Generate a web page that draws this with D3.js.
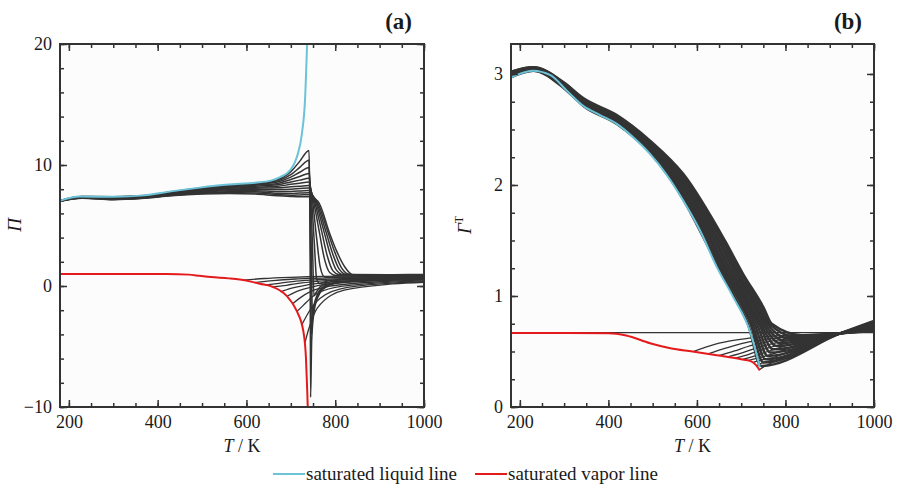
<!DOCTYPE html>
<html>
<head>
<meta charset="utf-8">
<script src="https://cdn.jsdelivr.net/npm/d3@7"></script>
<style>
  body { margin: 0; background: #fff; }
  text { font-family: "Liberation Serif", "Times New Roman", serif; fill: #1a1a1a; }
</style>
</head>
<body>
<svg id="chart" width="899" height="486"></svg>
<script>
// ---------- shared ----------
const xMajor = [200, 400, 600, 800, 1000]
const xMinor = [200, 250, 300, 350, 400, 450, 500, 550, 600, 650, 700, 750, 800, 850, 900, 950, 1000]

// ---------- panel (a): Pi vs T ----------
const yMajorA = [-10, 0, 10, 20]
const yMinorA = [-10, -8, -6, -4, -2, 0, 2, 4, 6, 8, 10, 12, 14, 16, 18, 20]

const liqTA = [180, 225, 300, 370, 430, 495, 560, 620, 655, 676, 698, 714, 725, 732, 737.5]
const liqPiA = [7.05, 7.4, 7.37, 7.49, 7.82, 8.13, 8.38, 8.54, 8.71, 9.0, 9.56, 10.7, 12.6, 15.4, 21]
const vapTA = [180, 420, 470, 495, 520, 560, 585, 610, 630, 660, 690, 713, 728, 734, 737, 738.5]
const vapPiA = [1.0, 0.99, 0.94, 0.84, 0.74, 0.63, 0.53, 0.36, 0.19, -0.08, -0.80, -2.04, -3.7, -5.9, -8.7, -10.5]

// supercritical isobars, liquid-like part on a common T grid
const supTA = [180, 230, 300, 370, 430, 500, 560, 620, 670, 700, 720, 741]
const supPiA = [
  [7.05, 7.4, 7.38, 7.47, 7.8, 8.12, 8.35, 8.5, 8.8, 9.45, 10.3, 11.2],
  [7.05, 7.39, 7.36, 7.45, 7.77, 8.08, 8.3, 8.45, 8.7, 9.2, 9.8, 10.4],
  [7.04, 7.38, 7.34, 7.43, 7.74, 8.04, 8.25, 8.4, 8.6, 9.0, 9.4, 9.8],
  [7.04, 7.37, 7.32, 7.41, 7.71, 8.0, 8.2, 8.33, 8.48, 8.8, 9.05, 9.3],
  [7.03, 7.36, 7.3, 7.39, 7.68, 7.96, 8.14, 8.25, 8.36, 8.6, 8.75, 8.9],
  [7.03, 7.35, 7.28, 7.37, 7.65, 7.92, 8.08, 8.17, 8.24, 8.4, 8.5, 8.6],
  [7.02, 7.33, 7.26, 7.35, 7.62, 7.87, 8.02, 8.08, 8.12, 8.2, 8.25, 8.3],
  [7.02, 7.32, 7.23, 7.33, 7.58, 7.82, 7.95, 7.98, 7.98, 8.0, 8.05, 8.1],
  [7.01, 7.3, 7.2, 7.31, 7.55, 7.76, 7.87, 7.88, 7.82, 7.82, 7.85, 7.9],
  [7.01, 7.28, 7.18, 7.29, 7.52, 7.7, 7.79, 7.78, 7.66, 7.65, 7.68, 7.7],
  [7.0, 7.27, 7.15, 7.27, 7.48, 7.65, 7.72, 7.69, 7.55, 7.5, 7.52, 7.55],
  [7.0, 7.25, 7.13, 7.25, 7.45, 7.6, 7.65, 7.6, 7.45, 7.4, 7.38, 7.38]
]
// their drop beyond the pseudo-critical temperature, [T, Pi]
const supTailA = [
  [[742.5, 7.5], [743.5, 2], [744.5, -9.2], [747, -4.5], [752, -2.2], [760, -1.0], [775, -0.2], [800, 0.2], [860, 0.42], [930, 0.52], [1000, 0.58]],
  [[743, 7], [745, 1.5], [746.5, -4], [749, -2.6], [755, -1.4], [765, -0.5], [785, 0.1], [820, 0.35], [900, 0.52], [1000, 0.6]],
  [[744, 7], [746.5, 2], [748.5, -2.4], [752, -1.6], [760, -0.7], [775, 0.0], [800, 0.3], [860, 0.5], [1000, 0.65]],
  [[745.5, 7], [749, 3], [752, -0.8], [756, -0.6], [765, -0.1], [785, 0.3], [830, 0.55], [1000, 0.7]],
  [[747, 7], [753, 3.5], [758, 0.6], [765, 0.2], [785, 0.45], [850, 0.65], [1000, 0.76]],
  [[749, 7], [758, 4], [766, 1.6], [776, 0.75], [795, 0.7], [870, 0.76], [1000, 0.82]],
  [[751, 7], [764, 4.5], [776, 2.2], [788, 1.1], [803, 0.85], [880, 0.82], [1000, 0.86]],
  [[753, 7], [769, 4.6], [782, 2.5], [795, 1.25], [810, 0.92], [890, 0.87], [1000, 0.89]],
  [[755, 7], [774, 4.6], [788, 2.7], [802, 1.35], [818, 0.95], [900, 0.89], [1000, 0.91]],
  [[757, 7], [779, 4.5], [794, 2.7], [809, 1.4], [826, 0.96], [910, 0.91], [1000, 0.93]],
  [[759, 7], [784, 4.4], [799, 2.8], [815, 1.45], [833, 0.95], [920, 0.93], [1000, 0.94]],
  [[761, 7], [788, 4.3], [803, 2.9], [822, 1.55], [841, 0.9], [930, 0.93], [1000, 0.95]]
]
// subcritical isobars, vapour branch starting on the saturated vapour line
const vapIsoA = [
  [[592, 0.48], [640, 0.62], [700, 0.72], [745, 0.77], [850, 0.82], [1000, 0.86]],
  [[619, 0.28], [660, 0.45], [710, 0.58], [750, 0.64], [850, 0.74], [1000, 0.8]],
  [[642, 0.08], [680, 0.26], [720, 0.42], [760, 0.52], [860, 0.66], [1000, 0.74]],
  [[660, -0.08], [690, 0.06], [725, 0.25], [765, 0.4], [870, 0.58], [1000, 0.68]],
  [[677, -0.49], [700, -0.2], [735, 0.08], [775, 0.28], [880, 0.5], [1000, 0.62]],
  [[691, -0.85], [710, -0.5], [740, -0.15], [780, 0.15], [890, 0.42], [1000, 0.55]],
  [[703, -1.5], [720, -1.0], [745, -0.45], [790, 0.0], [900, 0.35], [1000, 0.48]],
  [[714, -2.1], [728, -1.6], [750, -0.85], [800, -0.12], [910, 0.28], [1000, 0.42]],
  [[724, -3.26], [735, -2.5], [755, -1.4], [810, -0.25], [920, 0.22], [1000, 0.36]],
  [[731, -4.8], [740, -3.6], [760, -1.8], [820, -0.35], [930, 0.17], [1000, 0.31]]
]

// ---------- panel (b): Gamma^T vs T ----------
const yMajorB = [0, 1, 2, 3]
const yMinorB = [0, 0.25, 0.5, 0.75, 1, 1.25, 1.5, 1.75, 2, 2.25, 2.5, 2.75, 3]

const liqTB = [180, 229, 269, 306, 344, 381, 419, 456, 494, 532, 569, 607, 645, 682, 720, 742]
const liqGB = [2.97, 3.03, 2.99, 2.85, 2.71, 2.63, 2.55, 2.43, 2.28, 2.09, 1.86, 1.59, 1.26, 0.99, 0.68, 0.36]
const vapTB = [180, 400, 440, 494, 540, 590, 645, 700, 720, 733, 742]
const vapGB = [0.667, 0.665, 0.645, 0.575, 0.53, 0.50, 0.466, 0.43, 0.415, 0.38, 0.33]
const gasTB = [180, 1000]
const gasGB = [0.67, 0.67]

const supTB = [180, 230, 300, 344, 419, 494, 569]
const supGB = [
  [2.97, 3.03, 2.87, 2.71, 2.55, 2.29, 1.87],
  [2.98, 3.03, 2.88, 2.72, 2.56, 2.30, 1.89],
  [2.98, 3.04, 2.88, 2.73, 2.57, 2.31, 1.91],
  [2.99, 3.04, 2.89, 2.73, 2.57, 2.32, 1.93],
  [2.99, 3.04, 2.89, 2.74, 2.58, 2.33, 1.95],
  [2.99, 3.04, 2.89, 2.74, 2.59, 2.34, 1.98],
  [3.00, 3.05, 2.90, 2.75, 2.59, 2.35, 2.00],
  [3.00, 3.05, 2.90, 2.76, 2.60, 2.36, 2.02],
  [3.01, 3.05, 2.91, 2.76, 2.61, 2.37, 2.04],
  [3.01, 3.05, 2.91, 2.77, 2.62, 2.38, 2.06],
  [3.02, 3.06, 2.92, 2.77, 2.62, 2.39, 2.08],
  [3.02, 3.06, 2.92, 2.78, 2.63, 2.40, 2.10]
]
// temperatures where each isobar crosses these Gamma levels
const crossLevelsB = [1.5, 1.2, 0.9, 0.75]
const crossTB = [
  [618, 657, 697, 715],
  [623, 662, 703, 721],
  [626, 666, 707, 725],
  [631, 670, 712, 730],
  [634, 674, 717, 735],
  [639, 679, 721, 740],
  [642, 682, 726, 744],
  [647, 687, 731, 749],
  [650, 691, 735, 754],
  [655, 695, 740, 759],
  [659, 700, 745, 764],
  [663, 704, 750, 769]
]
const minPointB = [[745, 0.37], [750, 0.40], [755, 0.43], [760, 0.46], [766, 0.49], [772, 0.52],
  [780, 0.55], [788, 0.575], [796, 0.60], [806, 0.62], [820, 0.635], [840, 0.645]]
const pinchB = [925, 0.665]
const endGB = [0.775, 0.765, 0.755, 0.745, 0.735, 0.725, 0.715, 0.705, 0.70, 0.695, 0.69, 0.685]

const vapIsoB = [
  [[592, 0.50], [640, 0.565], [690, 0.605], [730, 0.625], [800, 0.645], [925, 0.665], [1000, 0.69]],
  [[625, 0.478], [665, 0.53], [705, 0.575], [740, 0.6], [810, 0.635], [925, 0.665], [1000, 0.7]],
  [[650, 0.463], [685, 0.505], [715, 0.545], [745, 0.575], [820, 0.625], [925, 0.665], [1000, 0.71]],
  [[670, 0.452], [700, 0.485], [725, 0.52], [750, 0.55], [830, 0.615], [925, 0.665], [1000, 0.72]],
  [[688, 0.44], [712, 0.467], [735, 0.5], [755, 0.525], [835, 0.605], [925, 0.665], [1000, 0.73]],
  [[703, 0.428], [722, 0.45], [742, 0.475], [760, 0.5], [840, 0.595], [925, 0.665], [1000, 0.74]],
  [[715, 0.418], [730, 0.433], [748, 0.452], [768, 0.475], [845, 0.585], [925, 0.665], [1000, 0.75]],
  [[726, 0.40], [737, 0.415], [753, 0.43], [775, 0.45], [850, 0.575], [925, 0.665], [1000, 0.76]],
  [[735, 0.372], [744, 0.39], [758, 0.41], [782, 0.43], [855, 0.56], [925, 0.665], [1000, 0.77]],
  [[741, 0.335], [748, 0.355], [765, 0.39], [800, 0.45], [860, 0.56], [925, 0.665], [1000, 0.775]]
]

const liqColor = "#6cc3d8"
const vapColor = "#e41a1c"
const isoColor = "#333333"

// ---------- build line data ----------
const zip = (a, b) => a.map((v, i) => [v, b[i]])

const superA = supPiA.map((row, i) => zip(supTA, row).concat(supTailA[i]))

const superB = supGB.map((row, i) => zip(supTB, row)
  .concat(crossTB[i].map((t, j) => [t, crossLevelsB[j]]))
  .concat([minPointB[i], pinchB, [1000, endGB[i]]]))

const svg = d3.select("#chart")
const defs = svg.append("defs")

function drawPanel(p) {
  const x = d3.scaleLinear().domain([180, 1000]).range([p.left, p.right])
  const y = d3.scaleLinear().domain(p.yDomain).range([p.bottom, p.top])

  const g = svg.append("g").attr("class", "panel-" + p.id)

  g.append("rect")
    .attr("x", p.left).attr("y", p.top)
    .attr("width", p.right - p.left).attr("height", p.bottom - p.top)
    .attr("fill", "#fcfcfc")

  defs.append("clipPath").attr("id", p.id + "-clip")
    .append("rect")
    .attr("x", p.left).attr("y", p.top)
    .attr("width", p.right - p.left).attr("height", p.bottom - p.top)

  const plot = g.append("g").attr("clip-path", "url(#" + p.id + "-clip)")

  const line = d3.line()
    .x(d => x(d[0]))
    .y(d => y(d[1]))
    .curve(d3.curveMonotoneX)

  p.groups.forEach((grp, k) => {
    plot.selectAll("path.iso" + k).data(grp.lines)
      .join("path")
      .attr("class", "iso" + k)
      .attr("d", line)
      .attr("fill", "none")
      .attr("stroke", isoColor)
      .attr("stroke-width", grp.width)
  })

  plot.append("path").datum(p.liquid)
    .attr("d", line).attr("fill", "none")
    .attr("stroke", liqColor).attr("stroke-width", 2)

  plot.append("path").datum(p.vapor)
    .attr("d", line).attr("fill", "none")
    .attr("stroke", vapColor).attr("stroke-width", 2)

  // ticks, pointing inward on all four sides
  function styleAxis(sel) {
    sel.select(".domain").remove()
    sel.selectAll(".tick line").attr("stroke", "#333").attr("stroke-width", 1.5)
    sel.attr("font-family", "'Liberation Serif', 'Times New Roman', serif").attr("font-size", 18)
    sel.selectAll(".tick text").attr("fill", "#1a1a1a")
  }
  const none = () => ""

  g.append("g").attr("transform", "translate(0," + p.bottom + ")")
    .call(d3.axisBottom(x).tickValues(xMinor).tickSize(-4).tickFormat(none)).call(styleAxis)
  g.append("g").attr("transform", "translate(0," + p.bottom + ")")
    .call(d3.axisBottom(x).tickValues(xMajor).tickSize(-7).tickPadding(8).tickFormat(d3.format("d"))).call(styleAxis)
  g.append("g").attr("transform", "translate(0," + p.top + ")")
    .call(d3.axisTop(x).tickValues(xMinor).tickSize(-4).tickFormat(none)).call(styleAxis)
  g.append("g").attr("transform", "translate(0," + p.top + ")")
    .call(d3.axisTop(x).tickValues(xMajor).tickSize(-7).tickFormat(none)).call(styleAxis)

  g.append("g").attr("transform", "translate(" + p.left + ",0)")
    .call(d3.axisLeft(y).tickValues(p.yMinor).tickSize(-4).tickFormat(none)).call(styleAxis)
  g.append("g").attr("transform", "translate(" + p.left + ",0)")
    .call(d3.axisLeft(y).tickValues(p.yMajor).tickSize(-7).tickPadding(8).tickFormat(d3.format("d"))).call(styleAxis)
  g.append("g").attr("transform", "translate(" + p.right + ",0)")
    .call(d3.axisRight(y).tickValues(p.yMinor).tickSize(-4).tickFormat(none)).call(styleAxis)
  g.append("g").attr("transform", "translate(" + p.right + ",0)")
    .call(d3.axisRight(y).tickValues(p.yMajor).tickSize(-7).tickFormat(none)).call(styleAxis)

  // frame
  g.append("rect")
    .attr("x", p.left).attr("y", p.top)
    .attr("width", p.right - p.left).attr("height", p.bottom - p.top)
    .attr("fill", "none").attr("stroke", "#333").attr("stroke-width", 2)

  // x title
  const xt = g.append("text")
    .attr("x", (p.left + p.right) / 2).attr("y", 452)
    .attr("text-anchor", "middle").attr("font-size", 18)
  xt.append("tspan").attr("font-style", "italic").text("T")
  xt.append("tspan").text(" / K")

  // panel letter
  g.append("text")
    .attr("x", p.right - 12).attr("y", 29)
    .attr("text-anchor", "end").attr("font-size", 23).attr("font-weight", "bold")
    .text(p.letter)

  return g
}

const gA = drawPanel({
  id: "a", letter: "(a)", left: 60, right: 424, top: 44, bottom: 407,
  yDomain: [-10, 20], yMajor: yMajorA, yMinor: yMinorA,
  groups: [{ lines: vapIsoA, width: 1.3 }, { lines: superA, width: 1.5 }],
  liquid: zip(liqTA, liqPiA), vapor: zip(vapTA, vapPiA)
})
gA.append("text")
  .attr("transform", "translate(21,225) rotate(-90)")
  .attr("text-anchor", "middle").attr("font-size", 19).attr("font-style", "italic")
  .text("Π")

const gB = drawPanel({
  id: "b", letter: "(b)", left: 511, right: 874, top: 44, bottom: 407,
  yDomain: [0, 3.27], yMajor: yMajorB, yMinor: yMinorB,
  groups: [{ lines: [zip(gasTB, gasGB)], width: 1.3 }, { lines: vapIsoB, width: 1.3 }, { lines: superB, width: 2.5 }],
  liquid: zip(liqTB, liqGB), vapor: zip(vapTB, vapGB)
})
const gl = gB.append("text")
  .attr("transform", "translate(471,225) rotate(-90)")
  .attr("text-anchor", "middle").attr("font-size", 19)
gl.append("tspan").attr("font-style", "italic").text("Γ")
gl.append("tspan").attr("font-size", 12).attr("dy", -8).text("T")

// ---------- legend ----------
const legendItems = ["saturated liquid line", "saturated vapor line"]
const legendColors = [liqColor, vapColor]
const legendX = [273, 475]
const legend = svg.append("g").attr("class", "legend")
legend.selectAll("line").data(legendItems).join("line")
  .attr("x1", (d, i) => legendX[i]).attr("x2", (d, i) => legendX[i] + 32)
  .attr("y1", 474).attr("y2", 474)
  .attr("stroke", (d, i) => legendColors[i]).attr("stroke-width", 2)
legend.selectAll("text").data(legendItems).join("text")
  .attr("x", (d, i) => legendX[i] + 33).attr("y", 480)
  .attr("font-size", 19)
  .text(d => d)
</script>
</body>
</html>
